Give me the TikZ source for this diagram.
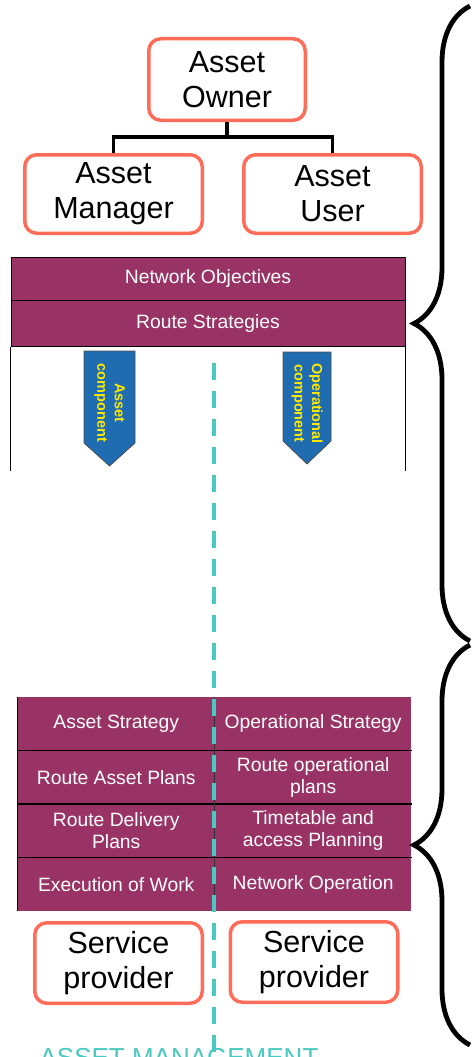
\documentclass[tikz,border=0pt]{standalone}
\usepackage{fontspec}
\setmainfont{Liberation Sans}
\usepackage{xcolor}
\usetikzlibrary{positioning,decorations.pathreplacing}

\definecolor{plum}{RGB}{153,51,102}
\definecolor{salmon}{RGB}{255,108,90}
\definecolor{lane}{RGB}{74,201,192}
\definecolor{compblue}{RGB}{31,108,176}
\definecolor{compyel}{RGB}{255,232,0}

\begin{document}
\begin{tikzpicture}[x=1pt,y=-1pt]
\tikzstyle{role}=[draw=salmon, line width=3.5pt, rounded corners=12pt, align=center, inner sep=0pt, text=black, font=\fontsize{30.5}{35}\selectfont]
\tikzstyle{band}=[draw=black, line width=0.7pt, fill=plum, text=white, minimum width=394pt, inner sep=0pt, font=\fontsize{19.3}{22}\selectfont]
\tikzstyle{cell}=[fill=plum, text=white, align=center, minimum width=196.5pt, minimum height=53.25pt, inner sep=0pt, font=\fontsize{19.3}{22}\selectfont]
\tikzstyle{sep}=[black, line width=1.2pt]
\tikzstyle{conn}=[black, line width=3.8pt]
\tikzstyle{compo}=[draw=black!70, line width=0.7pt, fill=compblue]
\tikzstyle{ctxt}=[rotate=-90, text=compyel, align=center, inner sep=0pt, font=\fontsize{14.5}{17.5}\selectfont\bfseries]
\tikzstyle{brc}=[black, line width=4.8pt, decorate, decoration={brace, amplitude=56pt}]

\useasboundingbox (0,0) rectangle (475,1057);

% roles at the top
\node[role, minimum width=156.5pt, minimum height=81.5pt] (own) at (227,79.5) {Asset\\Owner};
\node[role, minimum width=177.5pt, minimum height=78.5pt] (mgr) at (113.5,194) {Asset\\Manager};
\node[role, minimum width=177.5pt, minimum height=78.5pt] (usr) at (332.5,194) {Asset\\User};
\coordinate (split) at (227,137);
\draw[conn] (own.south) -- (split) -| (mgr.north);
\draw[conn] (split) -| (usr.north);

% strategy band
\node[band, minimum height=43pt] (obj) at (208,278.5) {Network Objectives};
\node[band, minimum height=46pt, below=0pt of obj] (rte) {Route Strategies};
\draw[black, line width=0.8pt] (rte.south west) -- ++(0,124);
\draw[black, line width=0.8pt] (rte.south east) -- ++(0,124);

% components
\draw[compo] (84,351) -- (135,351) -- (135,443) -- (109.5,466) -- (84,443) -- cycle;
\node[ctxt] (acomp) at (109.5,403) {Asset\\component};
\draw[compo] (283,352) -- (331,352) -- (331,441) -- (307,464) -- (283,441) -- cycle;
\node[ctxt] (ocomp) at (307,403.5) {Operational\\component};

% delivery table
\node[cell] (as) at (116.25,723.6) {Asset Strategy};
\node[cell, right=0pt of as] (os) {Operational Strategy};
\node[cell, below=0pt of as] (rap) {Route Asset Plans};
\node[cell, right=0pt of rap] (rop) {Route operational\\plans};
\node[cell, below=0pt of rap] (rdp) {Route Delivery\\Plans};
\node[cell, right=0pt of rdp] (tap) {Timetable and\\access Planning};
\node[cell, below=0pt of rdp] (ew) {Execution of Work};
\node[cell, right=0pt of ew] (no) {Network Operation};
\foreach \l/\r in {rap/rop, rdp/tap, ew/no}
  \draw[sep] (\l.north west) -- (\r.north east);
\draw[sep] (as.north west) -- (ew.south west);
\draw[black!80, line width=0.6pt] (as.north east) -- (ew.south east);

% service providers
\node[role, minimum width=167.5pt, minimum height=80.5pt] (spa) at (118.5,963) {Service\\provider};
\node[role, minimum width=167.5pt, minimum height=80.5pt] (spo) at (314,962) {Service\\provider};

% dividing lane
\coordinate (ltop) at (214,363);
\coordinate (lbot) at (214,1060);
\draw[lane, line width=4pt, dash pattern=on 17pt off 11pt] (ltop) -- (lbot);

\node[anchor=base, text=lane, inner sep=0pt, font=\fontsize{26}{30}\selectfont] (am) at (179,1066) {ASSET MANAGEMENT};

% braces
\coordinate (b1s) at (470,641);
\coordinate (b1e) at (470,6);
\coordinate (b2s) at (470,1045);
\coordinate (b2e) at (470,645);
\draw[brc] (b1s) -- (b1e);
\draw[brc] (b2s) -- (b2e);
\end{tikzpicture}
\end{document}
